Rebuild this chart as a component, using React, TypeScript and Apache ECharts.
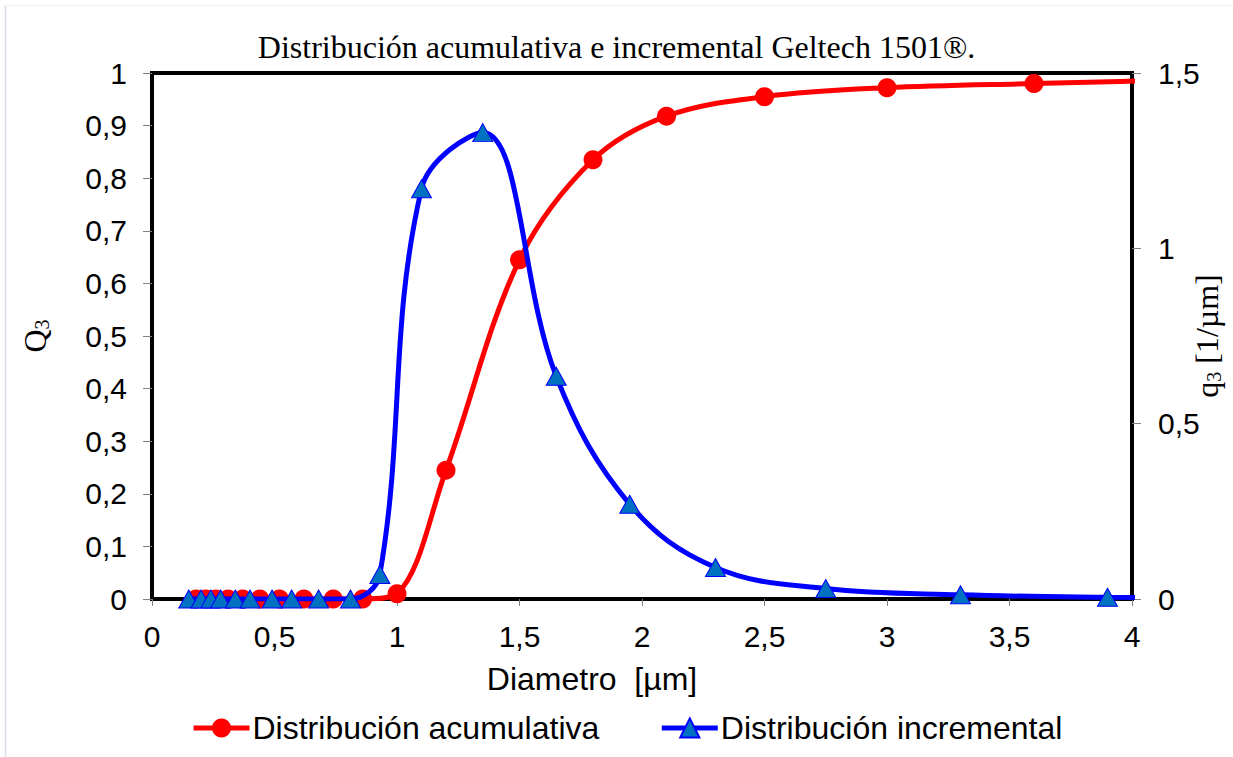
import React, { useEffect, useRef } from "react";
import * as echarts from "echarts";

const titleText = "Distribución acumulativa e incremental Geltech 1501®.";
const cumName = "Distribución acumulativa";
const incName = "Distribución incremental";

const cumX = [0.18, 0.22, 0.26, 0.31, 0.37, 0.44, 0.52, 0.62, 0.74, 0.86, 1.0, 1.2, 1.5, 1.8, 2.1, 2.5, 3.0, 3.6, 4.5];
const cumY = [0, 0, 0, 0, 0, 0, 0, 0, 0, 0, 0.01, 0.245, 0.645, 0.835, 0.918, 0.955, 0.972, 0.98, 0.99];

const incX = [0.15, 0.2, 0.24, 0.28, 0.34, 0.4, 0.49, 0.57, 0.68, 0.81, 0.93, 1.1, 1.35, 1.65, 1.95, 2.3, 2.75, 3.3, 3.9, 4.6];
const incY = [0, 0, 0, 0, 0, 0, 0, 0, 0, 0, 0.07, 1.17, 1.33, 0.635, 0.27, 0.09, 0.03, 0.012, 0.005, 0.002];

const fmt = (v: number) => String(+v.toFixed(2)).replace(".", ",");

export default function App() {
  const ref = useRef<HTMLDivElement>(null);
  useEffect(() => {
    const chart = echarts.init(ref.current!, null, { renderer: "svg" });
    const sans = "'Liberation Sans', Arial, sans-serif";
    const serif = "'Liberation Serif', 'Times New Roman', serif";
    chart.setOption({
      animation: false,
      backgroundColor: "#fff",
      graphic: [
        { type: "line", shape: { x1: 5.5, y1: 5, x2: 5.5, y2: 757 }, style: { stroke: "#d6def0", lineWidth: 1.5 }, silent: true },
        { type: "line", shape: { x1: 5, y1: 5.5, x2: 1233, y2: 5.5 }, style: { stroke: "#f0f0f3", lineWidth: 1 }, silent: true },
      ],
      title: {
        text: titleText,
        left: "center",
        top: 26,
        textStyle: { fontFamily: serif, fontSize: 32, fontWeight: "normal", color: "#000" },
      },
      grid: {
        left: 152,
        right: 101,
        top: 73,
        bottom: 158,
        show: true,
        borderColor: "#000",
        borderWidth: 4,
        containLabel: false,
        outerBoundsMode: "none",
      },
      legend: {
        top: 707,
        left: 186,
        itemWidth: 56,
        itemHeight: 24,
        itemGap: 60,
        lineStyle: { width: 5 },
        textStyle: { fontFamily: sans, fontSize: 32, color: "#000", padding: [0, 0, 0, -2] },
        data: [cumName, incName],
      },
      xAxis: {
        type: "value",
        min: 0,
        max: 4,
        interval: 0.5,
        name: "Diametro  [µm]",
        nameLocation: "middle",
        nameGap: 64,
        nameMoveOverlap: false,
        nameTextStyle: { fontFamily: sans, fontSize: 32, color: "#000", padding: [0, 100, 0, 0] },
        axisLine: { show: true, lineStyle: { color: "#000", width: 4 } },
        axisTick: { show: true, length: 7, lineStyle: { color: "#808080", width: 1 } },
        axisLabel: { formatter: fmt, fontFamily: sans, fontSize: 30, color: "#000", margin: 22 },
        splitLine: { show: false },
      },
      yAxis: [
        {
          type: "value",
          min: 0,
          max: 1,
          interval: 0.1,
          name: "{a|Q}{b|3}",
          nameLocation: "middle",
          nameGap: 100,
          nameMoveOverlap: false,
          nameTextStyle: {
            rich: {
              a: { fontFamily: serif, fontSize: 32, color: "#000" },
              b: { fontFamily: serif, fontSize: 20, color: "#000", verticalAlign: "bottom", padding: [14, 0, 0, 0] },
            },
          },
          axisLine: { show: true, lineStyle: { color: "#000", width: 4 } },
          axisTick: { show: true, length: 9, lineStyle: { color: "#808080", width: 1 } },
          axisLabel: { formatter: fmt, fontFamily: sans, fontSize: 30, color: "#000", margin: 25 },
          splitLine: { show: false },
        },
        {
          type: "value",
          min: 0,
          max: 1.5,
          interval: 0.5,
          position: "right",
          name: "{a|q}{b|3}{a| [1/µm]}",
          nameLocation: "middle",
          nameGap: 58,
          nameMoveOverlap: false,
          nameTextStyle: {
            rich: {
              a: { fontFamily: serif, fontSize: 32, color: "#000" },
              b: { fontFamily: serif, fontSize: 20, color: "#000", verticalAlign: "bottom", padding: [14, 0, 0, 0] },
            },
          },
          axisLine: { show: true, lineStyle: { color: "#000", width: 4 } },
          axisTick: { show: true, length: 9, lineStyle: { color: "#808080", width: 1 } },
          axisLabel: { formatter: fmt, fontFamily: sans, fontSize: 30, color: "#000", margin: 26 },
          splitLine: { show: false },
        },
      ],
      series: [
        {
          name: cumName,
          type: "line",
          yAxisIndex: 0,
          smooth: 0.35,
          clip: true,
          symbol: "circle",
          symbolSize: 19,
          data: cumX.map((x, i) => [x, cumY[i]]),
          lineStyle: { color: "#ff0000", width: 5 },
          itemStyle: { color: "#ff0000", borderColor: "#ff0000", borderWidth: 0 },
          z: 2,
        },
        {
          name: incName,
          type: "line",
          yAxisIndex: 1,
          smooth: 0.38,
          clip: true,
          symbol: "triangle",
          symbolSize: [20, 18],
          data: incX.map((x, i) => [x, incY[i]]),
          lineStyle: { color: "#0000ff", width: 5 },
          itemStyle: { color: "#0070c0", borderColor: "#0000ff", borderWidth: 1 },
          z: 3,
        },
      ],
    });
    return () => chart.dispose();
  }, []);
  return (
    <div
      ref={ref}
      style={{ position: "fixed", left: 0, top: 0, width: 1233, height: 757, background: "#fff" }}
    />
  );
}
